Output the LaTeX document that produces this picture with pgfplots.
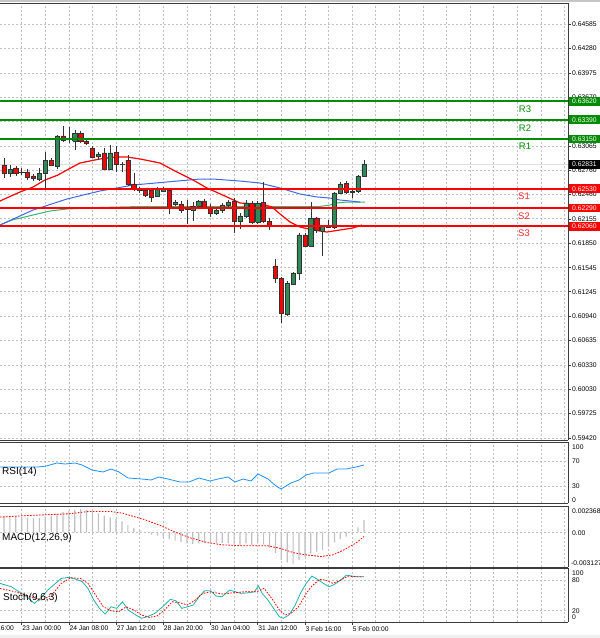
\documentclass[border=0pt]{standalone}
\usepackage{pgfplots}
\pgfplotsset{compat=1.18}
\usepackage{pgfplotstable}
\usepackage{fontspec}
\setmainfont{Liberation Sans}
\definecolor{mtgreen}{RGB}{46,139,87}
\definecolor{mtred}{RGB}{255,0,0}
\definecolor{lvlgreen}{RGB}{0,140,0}
\definecolor{gridc}{RGB}{192,192,192}
\definecolor{maBlue}{RGB}{65,105,225}
\definecolor{maGreen}{RGB}{60,179,113}
\definecolor{rsic}{RGB}{30,144,255}
\definecolor{stochc}{RGB}{32,178,170}
\definecolor{framec}{RGB}{60,60,60}
\definecolor{histc}{RGB}{192,192,192}

\pgfplotstableread{
x o h l c
4.0 0.62826 0.62913 0.62664 0.62726
9.9 0.62726 0.62826 0.62676 0.62776
15.8 0.62789 0.62813 0.62689 0.62726
21.7 0.62739 0.62789 0.62701 0.62730
27.6 0.62739 0.62776 0.62639 0.62676
33.5 0.62689 0.62714 0.62626 0.62664
39.4 0.62651 0.62789 0.62626 0.62726
45.3 0.62726 0.62988 0.62539 0.62888
51.2 0.62888 0.62913 0.62813 0.62826
57.1 0.62813 0.63200 0.62776 0.63188
63.0 0.63188 0.63312 0.63113 0.63138
68.9 0.63150 0.63300 0.63100 0.63144
74.8 0.63125 0.63263 0.63013 0.63225
80.7 0.63225 0.63250 0.63100 0.63125
86.6 0.63125 0.63138 0.63075 0.63100
92.5 0.63038 0.63063 0.62913 0.62926
98.4 0.62938 0.62988 0.62888 0.62963
104.3 0.62976 0.63038 0.62764 0.62776
110.2 0.62776 0.63075 0.62764 0.62976
116.1 0.62988 0.63063 0.62739 0.62838
122.0 0.62838 0.62863 0.62739 0.62832
127.9 0.62888 0.62951 0.62564 0.62589
133.8 0.62589 0.62726 0.62502 0.62527
139.7 0.62514 0.62551 0.62477 0.62508
145.6 0.62514 0.62527 0.62427 0.62452
151.5 0.62514 0.62539 0.62364 0.62427
157.4 0.62439 0.62551 0.62427 0.62539
163.3 0.62502 0.62551 0.62489 0.62539
169.2 0.62514 0.62539 0.62215 0.62302
175.1 0.62339 0.62389 0.62314 0.62364
181.0 0.62339 0.62377 0.62227 0.62264
186.9 0.62277 0.62389 0.62090 0.62271
192.8 0.62264 0.62364 0.62127 0.62314
198.7 0.62314 0.62389 0.62289 0.62377
204.6 0.62377 0.62402 0.62277 0.62302
210.5 0.62302 0.62339 0.62177 0.62227
216.4 0.62227 0.62302 0.62202 0.62264
222.3 0.62264 0.62352 0.62227 0.62327
228.2 0.62327 0.62389 0.62302 0.62364
234.1 0.62377 0.62414 0.61978 0.62127
240.0 0.62127 0.62227 0.62027 0.62190
245.9 0.62190 0.62389 0.62165 0.62352
251.8 0.62352 0.62377 0.62090 0.62115
257.7 0.62115 0.62377 0.62090 0.62352
263.6 0.62364 0.62614 0.62102 0.62127
269.5 0.62127 0.62165 0.62015 0.62077
275.4 0.61566 0.61653 0.61354 0.61416
281.3 0.61416 0.61429 0.60855 0.60979
287.2 0.60967 0.61379 0.60942 0.61354
293.1 0.61341 0.61491 0.61329 0.61479
299.0 0.61479 0.61978 0.61391 0.61953
304.9 0.61953 0.61978 0.61803 0.61815
310.8 0.61815 0.62364 0.61803 0.62165
316.7 0.62165 0.62177 0.61978 0.62015
322.6 0.62003 0.62077 0.61691 0.62065
328.5 0.62052 0.62140 0.62040 0.62046
334.4 0.62052 0.62489 0.62027 0.62477
340.3 0.62477 0.62614 0.62464 0.62589
346.2 0.62601 0.62626 0.62464 0.62489
352.1 0.62489 0.62514 0.62414 0.62495
358.0 0.62502 0.62701 0.62477 0.62689
363.9 0.62689 0.62888 0.62676 0.62831
}\candles

\pgfplotstableread{
x m
4.0 0.00137
9.9 0.00137
15.8 0.00137
21.7 0.00135
27.6 0.00133
33.5 0.00131
39.4 0.00133
45.3 0.00142
51.2 0.00150
57.1 0.00168
63.0 0.00185
68.9 0.00197
74.8 0.00203
80.7 0.00209
86.6 0.00203
92.5 0.00188
98.4 0.00170
104.3 0.00150
110.2 0.00135
116.1 0.00118
122.0 0.00098
127.9 0.00065
133.8 0.00040
139.7 0.00018
145.6 -0.00005
151.5 -0.00020
157.4 -0.00030
163.3 -0.00042
169.2 -0.00060
175.1 -0.00075
181.0 -0.00088
186.9 -0.00100
192.8 -0.00105
198.7 -0.00100
204.6 -0.00098
210.5 -0.00105
216.4 -0.00100
222.3 -0.00095
228.2 -0.00098
234.1 -0.00110
240.0 -0.00115
245.9 -0.00100
251.8 -0.00115
257.7 -0.00100
263.6 -0.00110
269.5 -0.00140
275.4 -0.00185
281.3 -0.00250
287.2 -0.00270
293.1 -0.00285
299.0 -0.00250
304.9 -0.00220
310.8 -0.00190
316.7 -0.00175
322.6 -0.00160
328.5 -0.00130
334.4 -0.00090
340.3 -0.00060
346.2 -0.00040
352.1 -0.00015
358.0 0.00045
363.9 0.00110
}\macdtab

\pgfplotsset{
  mtpanel/.style={
    scale only axis, width=568pt, xmin=0, xmax=568, clip=false,
    axis x line*=box, axis y line*=right,
    axis line style={framec, line width=0.8pt},
    xtick={21.7,45.3,...,565}, xticklabels={}, xtick style={draw=none},
    grid=major, scaled y ticks=false, scaled x ticks=false,
    major grid style={gridc, dash pattern=on 2pt off 2pt, line width=0.6pt},
    minor grid style={gridc, dash pattern=on 2pt off 2pt, line width=0.6pt},
  },
}

\begin{document}
\begin{tikzpicture}
\path[use as bounding box, fill=white] (0pt,0pt) rectangle (600pt,-638pt);
\fill[gray!45] (0pt,0pt) rectangle (600pt,-1.6pt);
\fill[gray!12] (0pt,-635pt) rectangle (600pt,-638pt);

% ---------------- main price panel ----------------
\begin{axis}[mtpanel, at={(0pt,-440pt)}, anchor=south west, height=437pt,
  ymin=0.59395, ymax=0.64847,
  ytick={0.59420,0.59725,0.60030,0.60330,0.60635,0.60940,0.61245,0.61545,0.61850,0.62155,0.62460,0.62760,0.63065,0.63365,0.63670,0.63975,0.64280,0.64585},
  yticklabels={0.59420,0.59725,0.60030,0.60330,0.60635,0.60940,0.61245,0.61545,0.61850,0.62155,0.62460,0.62760,0.63065,0.63365,0.63670,0.63975,0.64280,0.64585},
  yticklabel style={font=\fontsize{6.8}{8}\selectfont, inner sep=1pt, text=black},
  ytick style={framec, line width=0.5pt}, major tick length=3pt, tick align=outside,
]
% current price line
\addplot[gray!25, line width=1.2pt] coordinates {(0,0.62831) (568,0.62831)};
% moving averages
\addplot[maGreen, line width=1pt] coordinates {(0,0.62077) (12,0.62140) (33,0.62202) (50,0.62252) (67,0.62277) (100,0.62296) (140,0.62308) (200,0.62308) (260,0.62308) (320,0.62308) (330,0.62327) (337,0.62352) (347,0.62364) (365,0.62364)};
\addplot[maBlue, line width=1pt] coordinates {(0,0.62077) (33,0.62264) (67,0.62402) (100,0.62502) (117,0.62539) (133,0.62576) (167,0.62614) (200,0.62651) (213,0.62651) (240,0.62626) (260,0.62601) (280,0.62539) (300,0.62464) (317,0.62427) (330,0.62414) (340,0.62389) (350,0.62377) (360,0.62364)};
\addplot[mtred, line width=1.2pt] coordinates {(0,0.62377) (20,0.62489) (33,0.62551) (45,0.62639) (58,0.62701) (67,0.62764) (80,0.62851) (90,0.62876) (100,0.62901) (115,0.62926) (127,0.62926) (140,0.62901) (160,0.62851) (173,0.62764) (193,0.62639) (207,0.62539) (227,0.62427) (240,0.62352) (255,0.62339) (265,0.62327) (272,0.62302) (280,0.62215) (290,0.62115) (300,0.62052) (313,0.62015) (327,0.61990) (340,0.62015) (353,0.62040) (362,0.62077)};
% candles
\pgfplotsforeachungrouped \r in {0,...,61}{%
  \pgfplotstablegetelem{\r}{x}\of\candles \let\cx=\pgfplotsretval
  \pgfplotstablegetelem{\r}{o}\of\candles \let\co=\pgfplotsretval
  \pgfplotstablegetelem{\r}{h}\of\candles \let\ch=\pgfplotsretval
  \pgfplotstablegetelem{\r}{l}\of\candles \let\cl=\pgfplotsretval
  \pgfplotstablegetelem{\r}{c}\of\candles \let\cc=\pgfplotsretval
  \pgfmathsetmacro\xa{\cx-2.1}%
  \pgfmathsetmacro\xb{\cx+2.1}%
  \ifdim\cc pt<\co pt \def\bc{mtred}\else\def\bc{mtgreen}\fi
  \edef\doit{%
    \noexpand\addplot[black!80, line width=0.5pt, forget plot] coordinates {(\cx,\cl) (\cx,\ch)};%
    \noexpand\addplot[draw=black!80, fill=\bc, line width=0.45pt, forget plot] coordinates {(\xa,\co) (\xb,\co) (\xb,\cc) (\xa,\cc) (\xa,\co)};%
  }\doit
}
% support / resistance levels
\addplot[draw=lvlgreen, line width=1.8pt] coordinates {(0,0.63620) (568,0.63620)};
\addplot[draw=lvlgreen, line width=1.8pt] coordinates {(0,0.63390) (568,0.63390)};
\addplot[draw=lvlgreen, line width=1.8pt] coordinates {(0,0.63150) (568,0.63150)};
\addplot[draw=mtred, line width=1.8pt] coordinates {(0,0.62530) (568,0.62530)};
\addplot[draw=mtred, line width=1.8pt] coordinates {(0,0.62290) (568,0.62290)};
\addplot[draw=mtred, line width=1.8pt] coordinates {(0,0.62060) (568,0.62060)};
\node[text=lvlgreen, font=\fontsize{9.5}{10}\selectfont] at (axis cs:525,0.63620) [yshift=-7.5pt] {R3};
\node[text=lvlgreen, font=\fontsize{9.5}{10}\selectfont] at (axis cs:525,0.63390) [yshift=-8pt] {R2};
\node[text=lvlgreen, font=\fontsize{9.5}{10}\selectfont] at (axis cs:525,0.63150) [yshift=-7.5pt] {R1};
\node[text=mtred!85, font=\fontsize{9.5}{10}\selectfont] at (axis cs:524,0.62530) [yshift=-8pt] {S1};
\node[text=mtred!85, font=\fontsize{9.5}{10}\selectfont] at (axis cs:524,0.62290) [yshift=-8pt] {S2};
\node[text=mtred!85, font=\fontsize{9.5}{10}\selectfont] at (axis cs:524,0.62060) [yshift=-7pt] {S3};
\coordinate (LR3) at (axis cs:568,0.63620);
\coordinate (LR2) at (axis cs:568,0.63390);
\coordinate (LR1) at (axis cs:568,0.63150);
\coordinate (LCP) at (axis cs:568,0.62831);
\coordinate (LS1) at (axis cs:568,0.62530);
\coordinate (LS2) at (axis cs:568,0.62290);
\coordinate (LS3) at (axis cs:568,0.62060);
\end{axis}

% ---------------- RSI ----------------
\begin{axis}[mtpanel, at={(0pt,-503pt)}, anchor=south west, height=61pt,
  ymin=2.8, ymax=100.4, ytick={30,70}, yticklabels={}, ytick style={draw=none}]
\addplot[rsic, line width=0.8pt] coordinates {(0,60.4) (11,60.4) (23,60.4) (38,60.4) (46,62.0) (57,66.8) (65,65.2) (75,66.8) (82,63.6) (92,55.6) (103,52.4) (111,57.2) (119,52.4) (128,42.8) (142,41.2) (151,39.6) (159,44.4) (168,41.2) (180,36.4) (189,36.4) (199,42.8) (210,38.0) (218,41.2) (228,44.4) (235,36.4) (243,41.2) (251,38.0) (258,49.2) (268,41.2) (276,30.0) (281,25.2) (291,34.8) (299,39.6) (306,47.6) (314,50.8) (321,50.8) (329,50.8) (337,57.2) (346,57.2) (356,60.4) (364,63.6)};
\end{axis}

% ---------------- MACD ----------------
\begin{axis}[mtpanel, at={(0pt,-567pt)}, anchor=south west, height=61pt,
  ymin=-0.003127, ymax=0.002368, ytick={0}, yticklabels={}, ytick style={draw=none}]
\addplot[ybar, bar width=1.2pt, fill=histc, draw=none] table[x=x, y=m] {\macdtab};
\addplot[mtred, line width=0.8pt, dash pattern=on 1.6pt off 1.4pt] coordinates {(0,0.00137) (23,0.00149) (46,0.00158) (69,0.00167) (88,0.00187) (111,0.00187) (122,0.00173) (145,0.00113) (161,0.00059) (176,-0.00002) (191,-0.00052) (207,-0.00092) (222,-0.00113) (245,-0.00122) (268,-0.00122) (279,-0.00142) (295,-0.00187) (306,-0.00203) (321,-0.00218) (333,-0.00203) (344,-0.00158) (356,-0.00097) (364,-0.00038)};
\end{axis}

% ---------------- Stochastic ----------------
\begin{axis}[mtpanel, at={(0pt,-622pt)}, anchor=south west, height=54pt,
  ymin=-2.1, ymax=103.5, ytick={20,80}, yticklabels={}, ytick style={draw=none},
  xtick={21.7,68.9,116.1,163.3,210.5,257.7,304.9,352.1},
  xticklabels={23 Jan 00:00,24 Jan 08:00,27 Jan 12:00,28 Jan 20:00,30 Jan 04:00,31 Jan 12:00,3 Feb 16:00,5 Feb 00:00},
  minor xtick={45.3,92.5,139.7,186.9,234.1,281.3,328.5,375.7,399.3,422.9,446.5,470.1,493.7,517.3,540.9,564.5},
  grid=both, xtick pos=left, tick align=outside,
  xtick style={draw=framec, line width=0.5pt}, minor x tick style={draw=none},
  major tick length=3pt,
  xticklabel style={font=\fontsize{6.7}{8}\selectfont, anchor=north west, xshift=-0.5pt, inner sep=1pt, text=black}]
\addplot[stochc, line width=0.8pt] coordinates {(0,73.4) (11.5,66.8) (19.1,57.0) (26.8,47.3) (34.4,34.4) (42.1,47.3) (47.8,60.4) (55.5,73.4) (61.2,83.2) (68.9,85.2) (76.5,81.2) (82.3,76.6) (88.0,63.6) (93.8,40.8) (99.5,24.6) (105.2,13.5) (111.0,27.7) (116.7,24.6) (122.5,37.5) (128.2,21.3) (135.9,11.5) (141.6,5.1) (147.3,8.2) (155.0,14.8) (162.6,27.7) (170.3,42.2) (176.0,39.5) (181.8,24.6) (187.5,27.7) (193.3,31.1) (199.0,47.3) (204.7,59.0) (210.5,59.0) (216.2,48.6) (222.0,47.3) (229.6,60.4) (235.4,57.0) (241.1,53.9) (248.8,55.1) (254.5,57.0) (258.3,68.8) (262.2,53.9) (267.9,40.8) (273.6,24.6) (279.4,8.2) (283.2,5.1) (288.9,11.5) (294.7,29.1) (300.4,53.9) (306.2,73.4) (311.9,87.7) (317.6,81.2) (323.4,73.4) (329.1,66.8) (334.9,72.1) (340.6,79.9) (346.3,89.6) (352.1,87.7) (357.8,86.3) (363.6,86.3)};
\addplot[mtred, line width=0.8pt, dash pattern=on 1.6pt off 1.4pt] coordinates {(0,63.6) (15.3,57.0) (30.6,47.3) (42.1,40.8) (51.7,50.6) (61.2,73.4) (70.8,84.4) (80.4,83.2) (88.0,73.4) (95.7,50.6) (103.3,27.7) (111.0,19.9) (118.6,18.0) (126.3,27.7) (133.9,21.3) (141.6,11.5) (149.3,7.0) (156.9,9.6) (164.6,21.3) (172.2,37.5) (179.9,35.5) (187.5,31.1) (195.2,40.8) (202.8,53.9) (210.5,57.0) (222.0,52.5) (233.4,55.1) (244.9,57.0) (256.4,57.0) (264.1,63.6) (271.7,44.1) (279.4,21.3) (285.1,11.5) (290.9,14.8) (298.5,27.7) (306.2,53.9) (311.9,68.2) (319.6,81.2) (325.3,79.9) (333.0,73.4) (340.6,79.9) (348.3,87.7) (355.9,86.3) (363.6,86.3)};
\end{axis}

% ---------------- level price boxes ----------------
\tikzset{lvlbox/.style={anchor=west, inner sep=0pt, minimum width=31pt, minimum height=8.6pt, text=white, font=\fontsize{6.8}{8}\selectfont, align=left, text width=29pt, xshift=0.5pt}}
\node[lvlbox, fill=lvlgreen] at (LR3) {\hspace*{2.5pt}0.63620};
\node[lvlbox, fill=lvlgreen] at (LR2) {\hspace*{2.5pt}0.63390};
\node[lvlbox, fill=lvlgreen] at (LR1) {\hspace*{2.5pt}0.63150};
\node[lvlbox, fill=black] at (LCP) {\hspace*{2.5pt}0.62831};
\node[lvlbox, fill=mtred] at (LS1) {\hspace*{2.5pt}0.62530};
\node[lvlbox, fill=mtred] at (LS2) {\hspace*{2.5pt}0.62290};
\node[lvlbox, fill=mtred] at (LS3) {\hspace*{2.5pt}0.62060};

% ---------------- panel titles and scale texts ----------------
\tikzset{sc/.style={anchor=west, inner sep=0pt, font=\fontsize{6.8}{8}\selectfont}}
\node[anchor=west, inner sep=0pt, font=\fontsize{10}{11}\selectfont] at (2pt,-472pt) {RSI(14)};
\node[anchor=west, inner sep=0pt, font=\fontsize{10}{11}\selectfont] at (2pt,-538pt) {MACD(12,26,9)};
\node[anchor=west, inner sep=0pt, font=\fontsize{10}{11}\selectfont] at (3pt,-598pt) {Stoch(9,6,3)};
\node[sc] at (572pt,-447pt) {100};
\node[sc] at (572pt,-461pt) {70};
\node[sc] at (572pt,-486pt) {30};
\node[sc] at (572pt,-500pt) {0};
\node[sc] at (572pt,-511pt) {0.002368};
\node[sc] at (572pt,-533pt) {0.00};
\node[sc] at (571pt,-563pt) {-0.003127};
\node[sc] at (572pt,-573pt) {100};
\node[sc] at (572pt,-580pt) {80};
\node[sc] at (572pt,-611pt) {20};
\node[sc] at (572pt,-617pt) {0};
\node[anchor=north west, inner sep=1pt, font=\fontsize{6.7}{8}\selectfont] at (-26pt,-625pt) {22 Jan 16:00};
\end{tikzpicture}
\end{document}
